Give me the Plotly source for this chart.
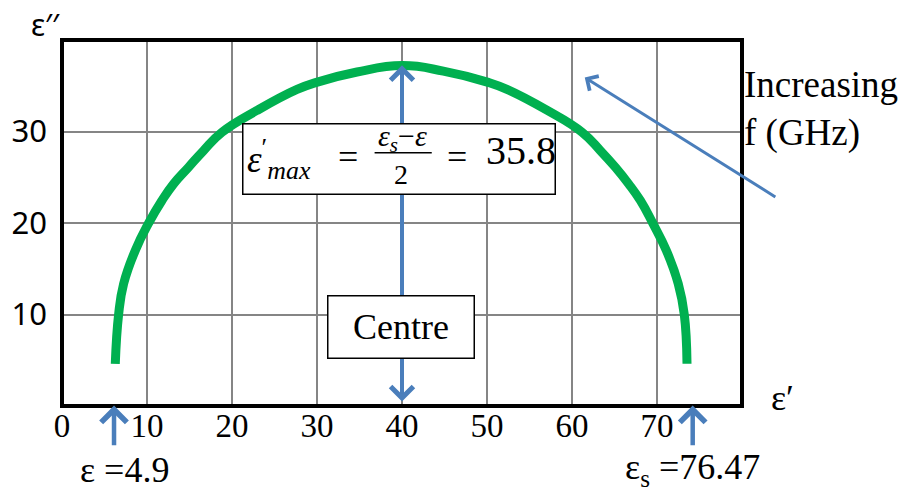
import plotly.graph_objects as go

# Cole-Cole arc (eps' , eps'')
eps_real = [6.27, 6.66, 7.25, 8.62, 10.19, 11.76, 13.13, 14.89, 16.66, 18.82, 22.94,
            27.65, 30.04, 34.71, 40.04, 44.86, 50.04, 52.35, 57.1, 61.18, 63.33,
            65.09, 66.66, 68.04, 69.5, 71.1, 72.5, 73.21, 73.53]
eps_imag = [4.61, 10.0, 13.36, 17.0, 19.98, 22.46, 24.28, 26.10, 27.92, 29.92, 32.3,
            34.6, 35.4, 36.5, 37.2, 36.6, 35.4, 34.6, 32.3, 29.92, 27.92,
            26.10, 24.28, 22.46, 19.98, 17.0, 13.36, 10.0, 4.61]

x_ticks = [0, 10, 20, 30, 40, 50, 60, 70]
y_ticks = [10, 20, 30]

eps_inf_mark = 6.12      # where the "ε =4.9" arrow sits
eps_s_mark = 74.2        # where the "εs =76.47" arrow sits
centre_x = 40.0
arc_top = 37.4

GREEN = "#00B050"
BLUE = "#4A7EBB"
SERIF = "Liberation Serif"
SANS = "Noto Sans"

fig = go.Figure()

fig.add_trace(
    go.Scatter(
        x=eps_real,
        y=eps_imag,
        mode="lines",
        line={"color": GREEN, "width": 9, "shape": "spline", "smoothing": 1.3},
        showlegend=False,
        hoverinfo="skip",
    )
)


def arrow(x, y, ax, ay, width=4, both=False):
    fig.add_annotation(
        x=x, y=y, ax=ax, ay=ay, xref="x", yref="y", axref="x", ayref="y",
        text="", showarrow=True, arrowhead=4, startarrowhead=4,
        arrowside="end+start" if both else "end",
        arrowsize=1.1, startarrowsize=1.1, arrowwidth=width, arrowcolor=BLUE,
    )


def label(x, y, text, size=36, family=SERIF, ref="", xanchor="center", **kw):
    fig.add_annotation(
        x=x, y=y, xref="x" if not ref else ref, yref="y" if not ref else ref,
        text=text, showarrow=False, xanchor=xanchor, yanchor="middle",
        font={"family": family, "size": size, "color": "black"}, **kw
    )


# arrows first so the boxes sit on top of them
arrow(centre_x, 0.5, centre_x, arc_top, width=4, both=True)
arrow(eps_inf_mark, 0.05, eps_inf_mark, -4.44, width=4.5)
arrow(eps_s_mark, 0.05, eps_s_mark, -4.44, width=4.5)
arrow(61.5, 35.9, 84.1, 22.75, width=3)

# formula box
fig.add_annotation(
    x=39.7, y=26.97, xref="x", yref="y", text="", showarrow=False,
    width=309, height=67, bgcolor="white", bordercolor="black", borderwidth=1.5,
)
label(21.5, 27.0, "<i>ε</i><sup>′</sup><sub><i>max</i></sub>", size=37, xanchor="left")
label(33.6, 27.2, "=", size=36)
label(40.06, 29.3, "<i>ε<sub>s</sub></i>−<i>ε</i>", size=30)
fig.add_annotation(
    x=43.5, y=27.69, ax=36.6, ay=27.69, xref="x", yref="y", axref="x", ayref="y",
    text="", showarrow=True, arrowhead=0, arrowwidth=1.5, arrowcolor="black",
)
label(39.94, 25.3, "2", size=28)
label(46.5, 27.2, "=", size=36)
label(49.6, 27.9, "35.8", size=40, xanchor="left")

# centre box
label(39.94, 8.66, "Centre", size=36, width=143, height=59,
      bgcolor="white", bordercolor="black", borderwidth=1.5)

# texts outside the plot area (paper coordinates)
label(1.0005, 0.8128, "Increasing<br>f (GHz)", size=37, ref="paper",
      xanchor="left", align="left")
label(-0.0246, 1.0423, "ε′′", size=30, family=SANS, ref="paper")
label(1.06, 0.0205, "ε′", size=36, ref="paper")
label(0.0926, -0.1735, "ε =4.9", size=36, ref="paper")
label(0.9275, -0.1735, "ε<sub>s</sub> =76.47", size=36, ref="paper")

# plot frame
fig.add_shape(
    type="rect", xref="paper", yref="paper", x0=0, x1=1, y0=0, y1=1,
    line={"color": "black", "width": 4}, layer="above",
)

fig.update_xaxes(
    range=[0, 80], tickvals=x_ticks, showgrid=True, gridcolor="#858585", gridwidth=2,
    zeroline=False, showline=False, ticks="", ticklabelstandoff=-3,
    tickfont={"family": SERIF, "size": 33, "color": "black"},
)
fig.update_yaxes(
    range=[0, 40], tickvals=y_ticks, showgrid=True, gridcolor="#858585", gridwidth=2,
    zeroline=False, showline=False, ticks="", ticklabelstandoff=14,
    tickfont={"family": SANS, "size": 31, "color": "black"},
)
# the page body adds an 8px offset, so the figure is 8px smaller on each side
fig.update_layout(
    width=903, height=479,
    margin={"l": 54, "r": 169, "t": 32, "b": 81, "autoexpand": False},
    paper_bgcolor="white", plot_bgcolor="white",
    showlegend=False,
)

fig.write_html("out.html")
